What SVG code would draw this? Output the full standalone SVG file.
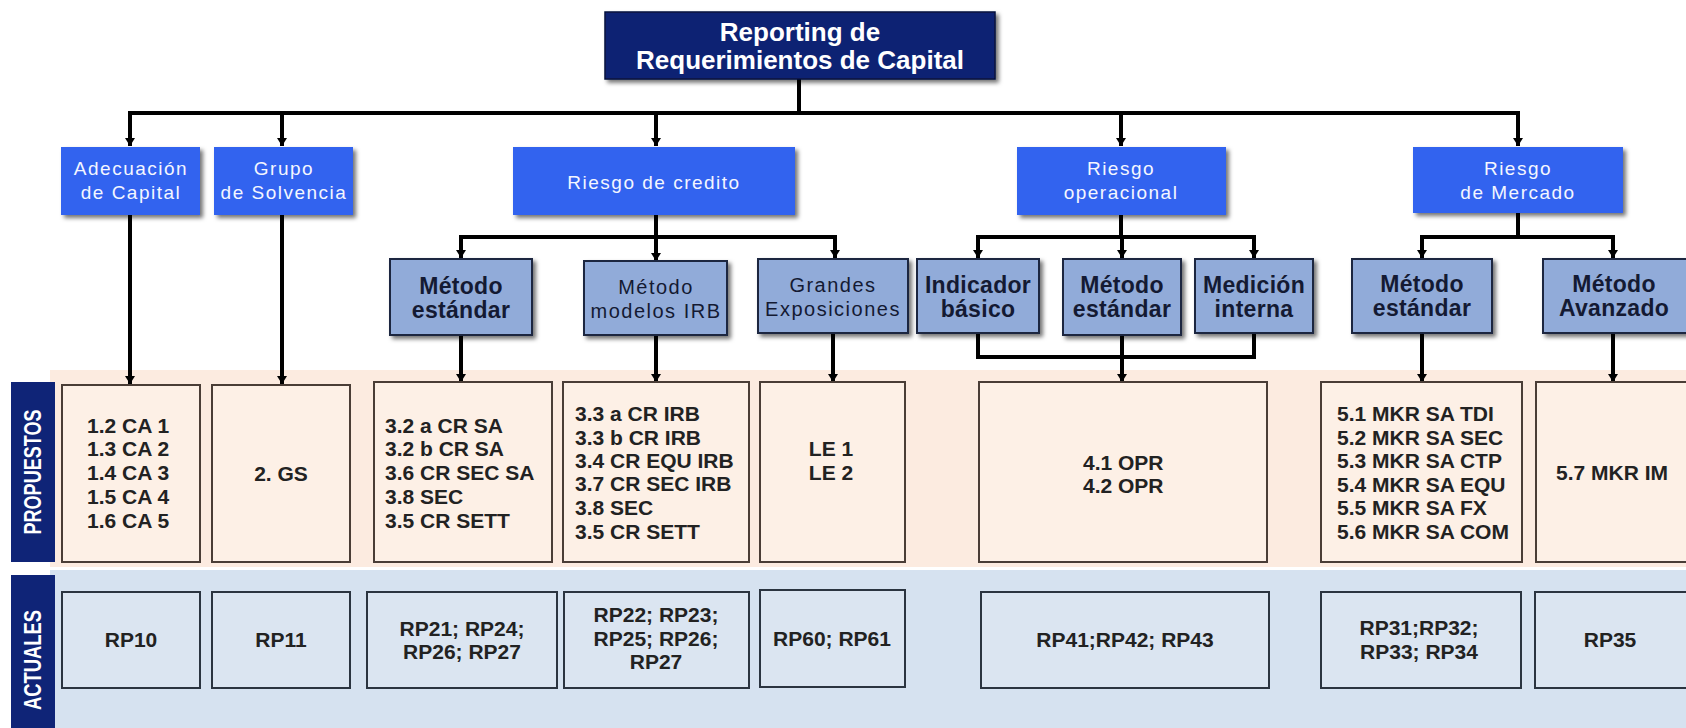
<svg xmlns="http://www.w3.org/2000/svg" width="1686" height="728" viewBox="0 0 1686 728">
<defs>
<filter id="sh" x="-10%" y="-10%" width="130%" height="140%">
<feDropShadow dx="3" dy="3" stdDeviation="2" flood-color="#000" flood-opacity="0.55"/>
</filter>
<marker id="arr" markerUnits="userSpaceOnUse" markerWidth="10" markerHeight="8" refX="5" refY="8" orient="0">
<path d="M0,0 L10,0 L5,8 z" fill="#000"/>
</marker>
<style>
.title{fill:#0e2173;stroke:#06103d;stroke-width:1.5}
.l1{fill:#3363ef}
.l2{fill:#91abd9;stroke:#1b2540;stroke-width:2}
.pb{fill:#fdf0e6;stroke:#4a3d36;stroke-width:2}
.ab{fill:#dbe5f1;stroke:#2b3440;stroke-width:2}
.lab{fill:#0f2477}
.t{font-family:"Liberation Sans",Arial,sans-serif}
.tt{font-size:26px;font-weight:bold;fill:#fff;text-anchor:middle}
.t1{font-size:19px;fill:#f4f6ff;text-anchor:middle;letter-spacing:1.5px}
.t2b{font-size:23px;font-weight:bold;fill:#141a33;text-anchor:middle;letter-spacing:0.3px}
.t2r{font-size:20px;fill:#141a33;text-anchor:middle;letter-spacing:1.5px}
.tp{font-size:21px;font-weight:bold;fill:#222}
.tpc{font-size:21px;font-weight:bold;fill:#222;text-anchor:middle}
.tl{font-size:24px;font-weight:bold;fill:#fff;text-anchor:middle}
.cn{fill:none;stroke:#000;stroke-width:4}
</style>
</defs>
<rect width="1686" height="728" fill="#fff"/>
<rect x="50" y="370" width="1640" height="197" fill="#fcebe0"/>
<rect x="50" y="570" width="1640" height="160" fill="#d6e2f0"/>

<g id="connectors" class="cn">
<path d="M799 79 V113"/>
<path d="M128 113 H1520"/>
<path d="M130 113 V146" marker-end="url(#arr)"/>
<path d="M282 113 V146" marker-end="url(#arr)"/>
<path d="M656 113 V146" marker-end="url(#arr)"/>
<path d="M1121 113 V146" marker-end="url(#arr)"/>
<path d="M1518 113 V146" marker-end="url(#arr)"/>
<path d="M130 214 V384" marker-end="url(#arr)"/>
<path d="M282 214 V384" marker-end="url(#arr)"/>
<path d="M656 214 V237"/>
<path d="M459 237 H837"/>
<path d="M461 237 V258" marker-end="url(#arr)"/>
<path d="M656 237 V261" marker-end="url(#arr)"/>
<path d="M835 237 V258" marker-end="url(#arr)"/>
<path d="M461 335 V382" marker-end="url(#arr)"/>
<path d="M656 335 V382" marker-end="url(#arr)"/>
<path d="M833 333 V382" marker-end="url(#arr)"/>
<path d="M1121 214 V237"/>
<path d="M976 237 H1256"/>
<path d="M978 237 V258" marker-end="url(#arr)"/>
<path d="M1122 237 V258" marker-end="url(#arr)"/>
<path d="M1254 237 V258" marker-end="url(#arr)"/>
<path d="M978 334 V357 H1254 V334"/>
<path d="M1122 335 V382" marker-end="url(#arr)"/>
<path d="M1518 213 V237"/>
<path d="M1420 237 H1615"/>
<path d="M1422 237 V258" marker-end="url(#arr)"/>
<path d="M1613 237 V258" marker-end="url(#arr)"/>
<path d="M1422 333 V382" marker-end="url(#arr)"/>
<path d="M1613 333 V382" marker-end="url(#arr)"/>
</g>

<g id="title">
<rect class="title" x="605" y="12" width="390" height="67" filter="url(#sh)"/>
<text class="t tt" x="800" y="41">Reporting de</text>
<text class="t tt" x="800" y="69">Requerimientos de Capital</text>
</g>

<g id="adecuacion">
<rect class="l1" x="61" y="147" width="139" height="68" filter="url(#sh)"/>
<text class="t t1" x="131" y="175">Adecuación</text>
<text class="t t1" x="131" y="199">de Capital</text>
</g>
<g id="grupo">
<rect class="l1" x="214" y="147" width="139" height="68" filter="url(#sh)"/>
<text class="t t1" x="284" y="175">Grupo</text>
<text class="t t1" x="284" y="199">de Solvencia</text>
</g>
<g id="credito">
<rect class="l1" x="513" y="147" width="282" height="68" filter="url(#sh)"/>
<text class="t t1" x="654" y="189">Riesgo de credito</text>
</g>
<g id="operacional">
<rect class="l1" x="1017" y="147" width="209" height="68" filter="url(#sh)"/>
<text class="t t1" x="1121" y="175">Riesgo</text>
<text class="t t1" x="1121" y="199">operacional</text>
</g>
<g id="mercado">
<rect class="l1" x="1413" y="147" width="210" height="66" filter="url(#sh)"/>
<text class="t t1" x="1518" y="175">Riesgo</text>
<text class="t t1" x="1518" y="199">de Mercado</text>
</g>

<g id="cr_estandar">
<rect class="l2" x="390" y="259" width="142" height="76" filter="url(#sh)"/>
<text class="t t2b" x="461" y="294">Método</text>
<text class="t t2b" x="461" y="318">estándar</text>
</g>
<g id="cr_irb">
<rect class="l2" x="584" y="261" width="143" height="74" filter="url(#sh)"/>
<text class="t t2r" x="656" y="294">Método</text>
<text class="t t2r" x="656" y="318">modelos IRB</text>
</g>
<g id="cr_grandes">
<rect class="l2" x="758" y="259" width="150" height="74" filter="url(#sh)"/>
<text class="t t2r" x="833" y="292">Grandes</text>
<text class="t t2r" x="833" y="316">Exposiciones</text>
</g>
<g id="op_indicador">
<rect class="l2" x="917" y="259" width="122" height="74" filter="url(#sh)"/>
<text class="t t2b" x="978" y="293">Indicador</text>
<text class="t t2b" x="978" y="317">básico</text>
</g>
<g id="op_estandar">
<rect class="l2" x="1063" y="259" width="118" height="76" filter="url(#sh)"/>
<text class="t t2b" x="1122" y="293">Método</text>
<text class="t t2b" x="1122" y="317">estándar</text>
</g>
<g id="op_medicion">
<rect class="l2" x="1195" y="259" width="118" height="74" filter="url(#sh)"/>
<text class="t t2b" x="1254" y="293">Medición</text>
<text class="t t2b" x="1254" y="317">interna</text>
</g>
<g id="mk_estandar">
<rect class="l2" x="1352" y="259" width="140" height="74" filter="url(#sh)"/>
<text class="t t2b" x="1422" y="292">Método</text>
<text class="t t2b" x="1422" y="316">estándar</text>
</g>
<g id="mk_avanzado">
<rect class="l2" x="1543" y="259" width="145" height="74" filter="url(#sh)"/>
<text class="t t2b" x="1614" y="292">Método</text>
<text class="t t2b" x="1614" y="316">Avanzado</text>
</g>

<g id="lab_propuestos">
<rect class="lab" x="11" y="382" width="44" height="180"/>
<text class="t tl" transform="translate(41,472) rotate(-90)" textLength="125" lengthAdjust="spacingAndGlyphs">PROPUESTOS</text>
</g>
<g id="lab_actuales">
<rect class="lab" x="11" y="575" width="44" height="160"/>
<text class="t tl" transform="translate(41,660) rotate(-90)" textLength="100" lengthAdjust="spacingAndGlyphs">ACTUALES</text>
</g>

<g id="p_ca">
<rect class="pb" x="62" y="385" width="138" height="177"/>
<text class="t tp" x="87" y="433">1.2 CA 1</text>
<text class="t tp" x="87" y="456">1.3 CA 2</text>
<text class="t tp" x="87" y="480">1.4 CA 3</text>
<text class="t tp" x="87" y="504">1.5 CA 4</text>
<text class="t tp" x="87" y="528">1.6 CA 5</text>
</g>
<g id="p_gs">
<rect class="pb" x="212" y="385" width="138" height="177"/>
<text class="t tpc" x="281" y="481">2. GS</text>
</g>
<g id="p_crsa">
<rect class="pb" x="374" y="382" width="178" height="180"/>
<text class="t tp" x="385" y="433">3.2 a CR SA</text>
<text class="t tp" x="385" y="456">3.2 b CR SA</text>
<text class="t tp" x="385" y="480">3.6 CR SEC SA</text>
<text class="t tp" x="385" y="504">3.8 SEC</text>
<text class="t tp" x="385" y="528">3.5 CR SETT</text>
</g>
<g id="p_crirb">
<rect class="pb" x="563" y="382" width="186" height="180"/>
<text class="t tp" x="575" y="421">3.3 a CR IRB</text>
<text class="t tp" x="575" y="445">3.3 b CR IRB</text>
<text class="t tp" x="575" y="468">3.4 CR EQU IRB</text>
<text class="t tp" x="575" y="491">3.7 CR SEC IRB</text>
<text class="t tp" x="575" y="515">3.8 SEC</text>
<text class="t tp" x="575" y="539">3.5 CR SETT</text>
</g>
<g id="p_le">
<rect class="pb" x="760" y="382" width="145" height="180"/>
<text class="t tpc" x="831" y="456">LE 1</text>
<text class="t tpc" x="831" y="480">LE 2</text>
</g>
<g id="p_opr">
<rect class="pb" x="979" y="382" width="288" height="180"/>
<text class="t tp" x="1083" y="470">4.1 OPR</text>
<text class="t tp" x="1083" y="493">4.2 OPR</text>
</g>
<g id="p_mkrsa">
<rect class="pb" x="1321" y="382" width="201" height="180"/>
<text class="t tp" x="1337" y="421">5.1 MKR SA TDI</text>
<text class="t tp" x="1337" y="445">5.2 MKR SA SEC</text>
<text class="t tp" x="1337" y="468">5.3 MKR SA CTP</text>
<text class="t tp" x="1337" y="492">5.4 MKR SA EQU</text>
<text class="t tp" x="1337" y="515">5.5 MKR SA FX</text>
<text class="t tp" x="1337" y="539">5.6 MKR SA COM</text>
</g>
<g id="p_mkrim">
<rect class="pb" x="1536" y="382" width="160" height="180"/>
<text class="t tpc" x="1612" y="480">5.7 MKR IM</text>
</g>

<g id="a_rp10">
<rect class="ab" x="62" y="592" width="138" height="96"/>
<text class="t tpc" x="131" y="647">RP10</text>
</g>
<g id="a_rp11">
<rect class="ab" x="212" y="592" width="138" height="96"/>
<text class="t tpc" x="281" y="647">RP11</text>
</g>
<g id="a_rp21">
<rect class="ab" x="367" y="592" width="190" height="96"/>
<text class="t tpc" x="462" y="636">RP21; RP24;</text>
<text class="t tpc" x="462" y="659">RP26; RP27</text>
</g>
<g id="a_rp22">
<rect class="ab" x="564" y="592" width="185" height="96"/>
<text class="t tpc" x="656" y="622">RP22; RP23;</text>
<text class="t tpc" x="656" y="646">RP25; RP26;</text>
<text class="t tpc" x="656" y="669">RP27</text>
</g>
<g id="a_rp60">
<rect class="ab" x="760" y="590" width="145" height="97"/>
<text class="t tpc" x="832" y="646">RP60; RP61</text>
</g>
<g id="a_rp41">
<rect class="ab" x="981" y="592" width="288" height="96"/>
<text class="t tpc" x="1125" y="647">RP41;RP42; RP43</text>
</g>
<g id="a_rp31">
<rect class="ab" x="1321" y="592" width="200" height="96"/>
<text class="t tpc" x="1419" y="635">RP31;RP32;</text>
<text class="t tpc" x="1419" y="659">RP33; RP34</text>
</g>
<g id="a_rp35">
<rect class="ab" x="1535" y="592" width="160" height="96"/>
<text class="t tpc" x="1610" y="647">RP35</text>
</g>
</svg>
